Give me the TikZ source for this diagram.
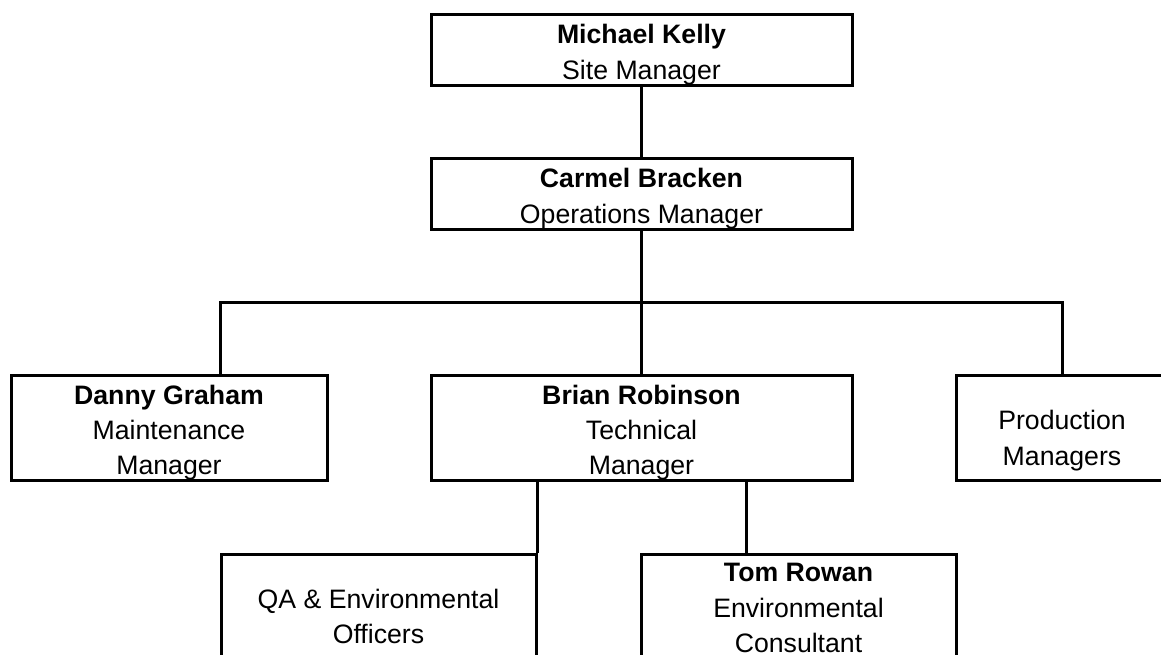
\documentclass[tikz,border=0pt]{standalone}
\usepackage{fontspec}
\setmainfont{Liberation Sans}
\begin{document}
\begin{tikzpicture}[x=0.75pt,y=-0.75pt,
  box/.style={draw, line width=2.25pt, rectangle, inner sep=0pt},
  txt/.style={inner sep=0pt, align=center, font=\fontsize{20}{26.5}\selectfont},
  wide/.style={minimum width=315.75pt},
  narrow/.style={minimum width=237pt},
  short/.style={minimum height=53.25pt},
  tall/.style={minimum height=78.75pt},
  conn/.style={line width=2.25pt}]
\useasboundingbox (0,0) rectangle (1161,655);
\clip (0,0) rectangle (1161,655);
\node[box,wide,short] (mk) at (641.5,50) {};
\node[box,wide,short] (cb) at (641.5,194.5) {};
\node[box,narrow,tall] (dg) at (169,428.5) {};
\node[box,wide,tall] (br) at (641.5,428.5) {};
\node[box,tall,minimum width=159pt] (pm) at (1062,428.5) {};
\node[box,tall,minimum width=236.25pt] (qa) at (378.5,607.5) {};
\node[box,tall,minimum width=236.25pt] (tr) at (798.5,607.5) {};
\node[txt] (mkt) at ([yshift=-3.5pt]mk.center) {\textbf{Michael Kelly}\\Site Manager};
\node[txt] (cbt) at ([yshift=-3pt]cb.center) {\textbf{Carmel Bracken}\\Operations Manager};
\node[txt] (dgt) at ([yshift=-3pt]dg.center) {\textbf{Danny Graham}\\Maintenance\\Manager};
\node[txt] (brt) at ([yshift=-3pt]br.center) {\textbf{Brian Robinson}\\Technical\\Manager};
\node[txt] (pmt) at ([yshift=-3pt]pm.center) {\mbox{}\\Production\\Managers};
\node[txt] (qat) at ([yshift=-0.5pt]qa.center) {\mbox{}\\QA \& Environmental\\Officers};
\node[txt] (trt) at ([yshift=-0.5pt]tr.center) {\textbf{Tom Rowan}\\Environmental\\Consultant};
\coordinate (hl) at (220,303);
\coordinate (hr) at (1062,303);
\coordinate (tc) at (746,520);
\draw[conn] (mk.south) -- (cb.north);
\draw[conn] (cb.south) -- (br.north);
\draw[conn] (hl |- dg.north) -- (hl) -- (hr) -- (pm.north);
\draw[conn] (qa.north east |- br.south) -- (qa.north east);
\draw[conn] (tc |- br.south) -- (tc |- tr.north);
\end{tikzpicture}
\end{document}
